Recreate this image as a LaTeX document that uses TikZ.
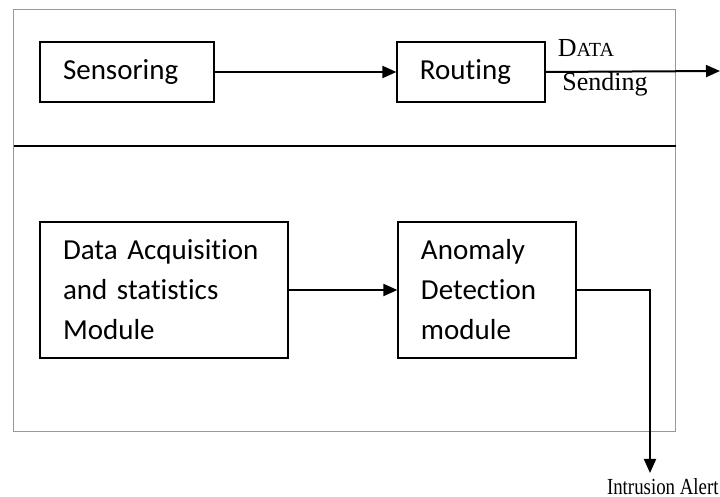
\documentclass[tikz,border=0pt]{standalone}
\usepackage{fontspec}
\setmainfont{Liberation Serif}
\newfontfamily\boxfont[Ligatures=NoCommon]{Carlito}
\usepackage{tikz}
\usetikzlibrary{arrows.meta, positioning}

\begin{document}
\begin{tikzpicture}[
    x=0.5pt, y=-0.5pt,
    box/.style={rectangle, draw=black, line width=0.6pt, inner xsep=11.5pt, align=left, font=\boxfont\fontsize{14.5}{20}\selectfont},
    arrow/.style={-{Triangle[length=7pt,width=6pt]}, line width=1pt, black},
    lbl/.style={inner sep=0pt, font=\fontsize{13}{13}\selectfont}
]
\useasboundingbox (0,0) rectangle (720,497);

% frame and divider
\draw[gray!80, line width=0.5pt] (14,10) rectangle (676,432);
\draw[line width=1pt] (14,146) -- (676,146);

% upper part
\node[box, text width=64pt, minimum height=30pt] (sens) at (127,72) {Sensoring};
\node[box, text width=51pt, minimum height=30pt] (rout) at (471,72) {Routing};
\coordinate (sendend) at (720,71);
\node[lbl] (data) at (586,48) {D{\fontsize{10}{10}\selectfont ATA}};
\node[lbl] (send) at (605,84) {Sending};

% lower part
\node[box, text width=101pt, minimum height=68pt] (acq) at (164,290) {Data Acquisition\\and statistics\\Module};
\node[box, text width=66pt, minimum height=68pt] (anom) at (487,290) {Anomaly\\Detection\\module};
\coordinate (alerttip) at (650,473);
\node[lbl, anchor=east, font=\fontsize{11.5}{11.5}\selectfont] (alert) at (719,487) {\scalebox{0.82}[1]{Intrusion Alert}};

% arrows
\draw[arrow] (sens) -- (rout);
\draw[arrow] (rout.east) -- (sendend);
\draw[arrow] (acq) -- (anom);
\draw[arrow] (anom.east) -| (alerttip);

\end{tikzpicture}
\end{document}
